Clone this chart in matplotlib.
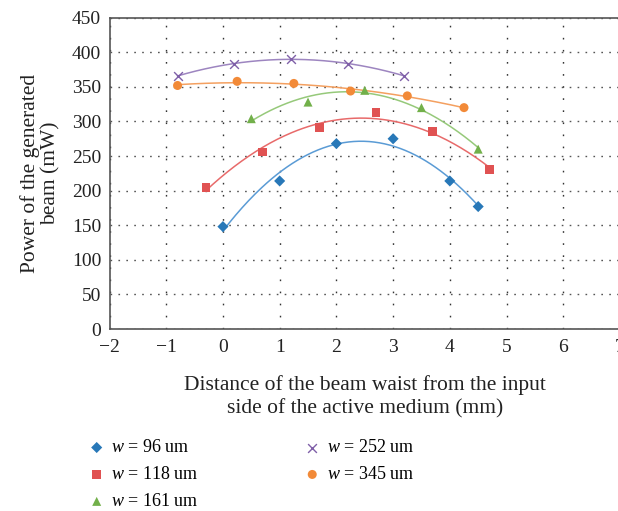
import numpy as np
import matplotlib
matplotlib.use("Agg")
import matplotlib.pyplot as plt

plt.rcParams['font.family'] = ['Liberation Serif', 'DejaVu Serif']
plt.rcParams['mathtext.fontset'] = 'custom'
plt.rcParams['mathtext.rm'] = 'Liberation Serif'
plt.rcParams['mathtext.it'] = 'Liberation Serif:italic'

# data
x_96 = [0, 1, 2, 3, 4, 4.5]
p_96 = [148, 214, 268, 275, 214, 177]
x_118 = [-0.3, 0.7, 1.7, 2.7, 3.7, 4.7]
p_118 = [205, 256, 291, 313, 285, 230]
x_161 = [0.5, 1.5, 2.5, 3.5, 4.5]
p_161 = [304, 328, 345, 320, 260]
x_252 = [-0.8, 0.2, 1.2, 2.2, 3.2]
p_252 = [366, 383, 391, 383, 366]
x_345 = [-0.8, 0.25, 1.25, 2.25, 3.25, 4.25]
p_345 = [352, 358, 355, 344, 337, 320]

series = [
    (x_96, p_96, '96', 'D', '#2878b8', '#5a9bd5', 32),
    (x_118, p_118, '118', 's', '#e05252', '#e86a6a', 40),
    (x_161, p_161, '161', '^', '#72b04a', '#96c97a', 42),
    (x_252, p_252, '252', 'x', '#7f5fa8', '#9d85c0', 40),
    (x_345, p_345, '345', 'o', '#f28a38', '#f4a060', 42),
]

fig = plt.figure(figsize=(6.18, 5.11), dpi=100)
ax = fig.add_axes([109.5 / 618, 1 - 329 / 511, (620 - 109.5) / 618, (329 - 17.7) / 511])

handles = []
for xs, ps, w, mk, col, lcol, ms in series:
    # second order trend line like the spreadsheet
    c = np.polyfit(xs, ps, 2)
    xx = np.linspace(min(xs), max(xs), 200)
    ax.plot(xx, np.polyval(c, xx), color=lcol, lw=1.1, zorder=2)
    if mk == 'x':
        h = ax.scatter(xs, ps, marker=mk, s=ms, color=col, linewidths=1.0, zorder=3,
                       label=r'$w$ = %s um' % w)
    else:
        h = ax.scatter(xs, ps, marker=mk, s=ms, color=col, edgecolors='none', zorder=3,
                       label=r'$w$ = %s um' % w)
    handles.append(h)

ax.set_xlim(-2, 7)
ax.set_ylim(0, 450)
ax.set_xticks(range(-2, 8))
ax.set_xticklabels(['\u22122', '\u22121', '0', '1', '2', '3', '4', '5', '6', '7'])
ax.set_yticks(range(0, 451, 50))
ax.tick_params(length=0, labelsize=14, colors='#222222', pad=6)
ax.tick_params(axis='x', pad=7)

ax.yaxis.grid(True, color='#555555', lw=1.0, linestyle=(0, (1.2, 4.5)))
ax.xaxis.grid(True, color='#333333', lw=1.0, linestyle=(0, (1.2, 7.5)))
ax.set_axisbelow(True)
for s in ax.spines.values():
    s.set_color('#555555')
    s.set_linewidth(1.2)

ax.set_xlabel('Distance of the beam waist from the input\nside of the active medium (mm)',
              fontsize=15.5, labelpad=14, color='#222222', linespacing=1.3)
ax.set_ylabel('Power of the generated\nbeam (mW)', fontsize=15.5, labelpad=8,
              color='#222222', linespacing=1.1)

fig.legend(handles=handles, loc='upper left', bbox_to_anchor=(66 / 618, 1 - 423 / 511),
           ncol=2, frameon=False, fontsize=13, columnspacing=5.5, handletextpad=0.0,
           labelspacing=0.55, markerscale=1.0, handlelength=1.6)

fig.savefig('out.png', dpi=100)
